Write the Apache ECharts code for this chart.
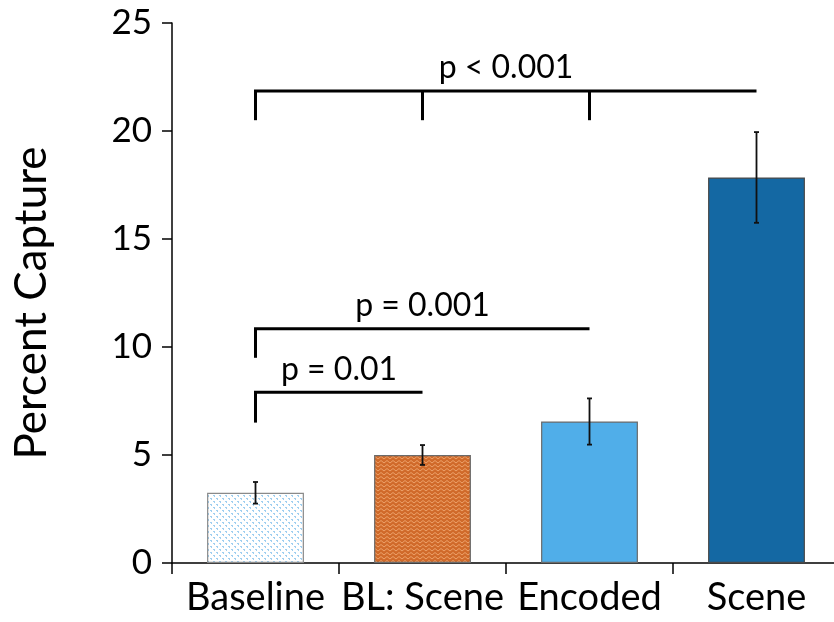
<!DOCTYPE html>
<html>
<head>
<meta charset="utf-8">
<script src="https://cdn.jsdelivr.net/npm/echarts@6/dist/echarts.min.js"></script>
<style>
  html, body { margin: 0; padding: 0; background: #fff; }
  #chart { width: 834px; height: 622px; }
</style>
</head>
<body>
<div id="chart"></div>
<script>
// Capture rate per condition, with error bar half-widths
const categories = ['Baseline', 'BL: Scene', 'Encoded', 'Scene'];
const captureMeans = [3.25, 5.0, 6.55, 17.85];
const captureErrors = [0.5, 0.46, 1.07, 2.1];
const yTicks = [0, 5, 10, 15, 20, 25];

// Significance brackets: span (category indices), bracket height, legs and their lower ends
const bracketLabels = ['p < 0.001', 'p = 0.001', 'p = 0.01'];
const bracketSpans = [[0, 3], [0, 2], [0, 1]];
const bracketLevels = [21.85, 10.85, 7.9];
const bracketLegs = [[0, 1, 2], [0], [0]];
const bracketLegEnds = [20.5, 9.5, 6.5];

const FONT = 'Lato, "Open Sans", sans-serif';

// Fill patterns for the two textured bars
function dotPattern() {
  const c = document.createElement('canvas');
  c.width = 6; c.height = 6;
  const g = c.getContext('2d');
  g.fillStyle = '#ffffff';
  g.fillRect(0, 0, 6, 6);
  g.fillStyle = '#9fcff0';
  g.fillRect(0, 0, 2, 1);
  g.fillRect(1, 1, 1, 1);
  g.fillRect(3, 3, 2, 1);
  g.fillRect(4, 4, 1, 1);
  return c;
}
function zigzagPattern() {
  const c = document.createElement('canvas');
  c.width = 6; c.height = 4;
  const g = c.getContext('2d');
  g.fillStyle = '#d06a2a';
  g.fillRect(0, 0, 6, 4);
  g.strokeStyle = '#eda26b';
  g.lineWidth = 1;
  g.beginPath();
  g.moveTo(0, 3); g.lineTo(3, 0.5); g.lineTo(6, 3);
  g.stroke();
  return c;
}

const barFills = [
  { image: dotPattern(), repeat: 'repeat' },
  { image: zigzagPattern(), repeat: 'repeat' },
  '#50aee9',
  '#1468a3'
];
const barBorders = ['#8a8a8a', '#6b6b6b', '#6b6b6b', '#4a4a4a'];

const chart = echarts.init(document.getElementById('chart'), null, { renderer: 'canvas' });

const option = {
  animation: false,
  backgroundColor: '#ffffff',
  grid: { left: 172, top: 23, height: 540, width: 668, containLabel: false, outerBoundsMode: 'none' },
  xAxis: {
    type: 'category',
    data: categories,
    axisLine: { lineStyle: { color: '#000', width: 1.5 } },
    axisTick: { show: true, length: 11, lineStyle: { color: '#000', width: 1.5 } },
    axisLabel: { color: '#000', fontSize: 38, fontFamily: FONT, margin: 16, interval: 0 }
  },
  yAxis: {
    type: 'value',
    min: 0, max: 25, interval: 5,
    name: 'Percent Capture',
    nameLocation: 'middle',
    nameGap: 118,
    nameRotate: 90,
    nameTextStyle: { color: '#000', fontSize: 44, fontFamily: FONT, padding: [0, 0, 0, -20] },
    axisLine: { show: true, lineStyle: { color: '#000', width: 1.5 } },
    axisTick: { show: true, length: 10, lineStyle: { color: '#000', width: 1.5 } },
    axisLabel: {
      color: '#000', fontSize: 35, fontFamily: FONT, margin: 20,
      formatter: v => (yTicks.indexOf(v) >= 0 ? String(v) : '')
    },
    splitLine: { show: false }
  },
  series: [
    {
      type: 'bar',
      barCategoryGap: '42%',
      data: captureMeans.map((v, i) => ({
        value: v,
        itemStyle: { color: barFills[i], borderColor: barBorders[i], borderWidth: 1.2 }
      })),
      z: 2
    },
    {
      // error bars
      type: 'custom',
      z: 3,
      data: captureMeans.map((m, i) => [i, m - captureErrors[i], m + captureErrors[i]]),
      renderItem: function (params, api) {
        const lo = api.coord([api.value(0), api.value(1)]);
        const hi = api.coord([api.value(0), api.value(2)]);
        const cap = 2.5;
        const style = { stroke: '#111', lineWidth: 1.8 };
        return {
          type: 'group',
          children: [
            { type: 'line', shape: { x1: lo[0], y1: lo[1], x2: hi[0], y2: hi[1] }, style },
            { type: 'line', shape: { x1: hi[0] - cap, y1: hi[1], x2: hi[0] + cap, y2: hi[1] }, style },
            { type: 'line', shape: { x1: lo[0] - cap, y1: lo[1], x2: lo[0] + cap, y2: lo[1] }, style }
          ]
        };
      }
    },
    {
      // significance brackets with their p-value labels
      type: 'custom',
      z: 4,
      data: bracketLabels.map((t, i) => [i]),
      renderItem: function (params, api) {
        const i = params.dataIndex;
        const span = bracketSpans[i];
        const a = api.coord([span[0], bracketLevels[i]]);
        const b = api.coord([span[1], bracketLevels[i]]);
        const style = { stroke: '#000', lineWidth: 3 };
        const children = [
          { type: 'line', shape: { x1: a[0] - 1.5, y1: a[1], x2: b[0], y2: b[1] }, style }
        ];
        bracketLegs[i].forEach(function (k) {
          const top = api.coord([k, bracketLevels[i]]);
          const bot = api.coord([k, bracketLegEnds[i]]);
          children.push({ type: 'line', shape: { x1: top[0], y1: top[1], x2: bot[0], y2: bot[1] }, style });
        });
        children.push({
          type: 'text',
          x: (a[0] + b[0]) / 2,
          y: a[1] - 7,
          style: {
            text: bracketLabels[i],
            fill: '#000',
            font: '32px ' + FONT,
            textAlign: 'center',
            textVerticalAlign: 'bottom'
          }
        });
        return { type: 'group', children };
      }
    }
  ]
};

chart.setOption(option);
</script>
</body>
</html>
